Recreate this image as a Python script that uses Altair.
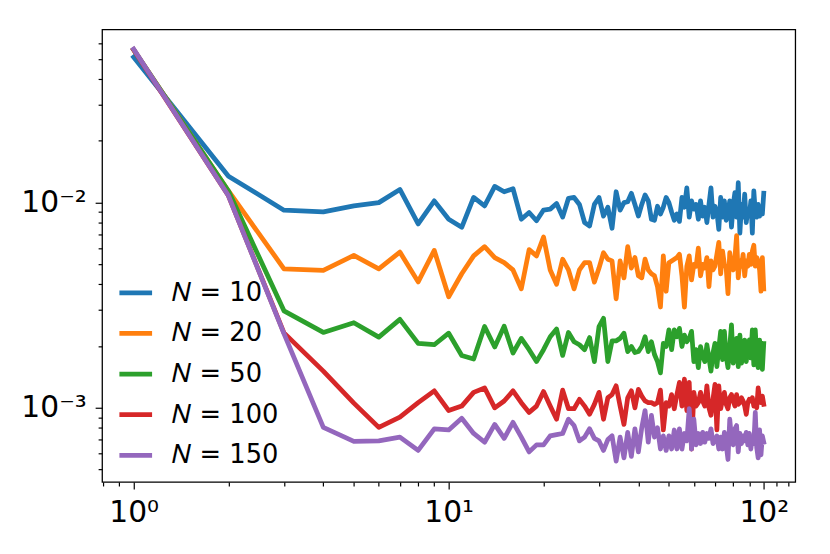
import altair as alt
import pandas as pd

n_values = list(range(1, 101))

series_labels = ["𝑁 = 10", "𝑁 = 20", "𝑁 = 50", "𝑁 = 100", "𝑁 = 150"]
series_colors = ["#1f77b4", "#ff7f0e", "#2ca02c", "#d62728", "#9467bd"]

n10 = [0.0512, 0.01346, 0.00919, 0.00902, 0.00964, 0.0100, 0.0116, 0.00787, 0.0102, 0.0083,
       0.00758, 0.0106, 0.00964, 0.0120, 0.0113, 0.0117, 0.0083, 0.00895, 0.00816, 0.0092,
       0.0093, 0.0099, 0.0085, 0.0105, 0.0106, 0.0098, 0.0080, 0.0077, 0.0098, 0.0106,
       0.0086, 0.0095, 0.0075, 0.0113, 0.0092, 0.0100, 0.0101, 0.0111, 0.0098, 0.0086,
       0.0098, 0.0109, 0.0102, 0.0083, 0.0082, 0.0096, 0.0088, 0.0095, 0.0106, 0.0100,
       0.0090, 0.0082, 0.0088, 0.0081, 0.0106, 0.0095, 0.0118, 0.0085, 0.0102, 0.0093,
       0.0098, 0.0083, 0.0102, 0.0086, 0.0095, 0.0080, 0.0098, 0.0118, 0.0085, 0.0096,
       0.0090, 0.0074, 0.0106, 0.0085, 0.0102, 0.0082, 0.0090, 0.0102, 0.0076, 0.0098,
       0.0112, 0.0085, 0.0125, 0.0071, 0.0098, 0.0085, 0.0110, 0.0080, 0.0093, 0.0086,
       0.0102, 0.0071, 0.0114, 0.0090, 0.0085, 0.0098, 0.0086, 0.0095, 0.0088, 0.0111]

n20 = [0.0556, 0.0114, 0.00476, 0.00468, 0.00553, 0.00476, 0.00574, 0.00411, 0.00585, 0.00348,
       0.0045, 0.0055, 0.0061, 0.0054, 0.0051, 0.0047, 0.0038, 0.0059, 0.0055, 0.0068,
       0.0047, 0.0040, 0.0053, 0.0047, 0.0038, 0.0047, 0.0051, 0.0051, 0.0041, 0.0048,
       0.0057, 0.0053, 0.0052, 0.0034, 0.0052, 0.0043, 0.0061, 0.0048, 0.0054, 0.0044,
       0.0043, 0.0053, 0.0047, 0.0045, 0.0044, 0.0039, 0.0031, 0.0055, 0.0037, 0.0051,
       0.0052, 0.0053, 0.0054, 0.0056, 0.0044, 0.0031, 0.0049, 0.0055, 0.0042, 0.0050,
       0.0049, 0.0060, 0.0044, 0.0050, 0.0048, 0.0054, 0.0039, 0.0052, 0.0047, 0.0049,
       0.0056, 0.0064, 0.0045, 0.0058, 0.0050, 0.0048, 0.0036, 0.0057, 0.0049, 0.0047,
       0.0054, 0.0069, 0.0043, 0.0052, 0.0049, 0.0056, 0.0044, 0.0052, 0.0049, 0.0056,
       0.0050, 0.0058, 0.0062, 0.0049, 0.0054, 0.0052, 0.0047, 0.0037, 0.0054, 0.0038]

n50 = [0.0556, 0.0114, 0.00297, 0.00233, 0.0026, 0.00221, 0.0027, 0.00206, 0.00203, 0.00231,
       0.00180, 0.00173, 0.00249, 0.00198, 0.00250, 0.00185, 0.00218, 0.00192, 0.00168, 0.00192,
       0.00222, 0.00242, 0.00180, 0.00233, 0.00210, 0.00203, 0.00192, 0.00220, 0.00168, 0.00249,
       0.00273, 0.00168, 0.00212, 0.00212, 0.00218, 0.00231, 0.00188, 0.00199, 0.00186, 0.00188,
       0.00199, 0.00222, 0.00188, 0.00210, 0.00182, 0.00168, 0.00148, 0.00206, 0.00199, 0.00240,
       0.00192, 0.00240, 0.00222, 0.00244, 0.00199, 0.00226, 0.00210, 0.00218, 0.00236, 0.00168,
       0.00192, 0.00157, 0.00199, 0.00178, 0.00168, 0.00203, 0.00175, 0.00151, 0.00185, 0.00206,
       0.00159, 0.00196, 0.00236, 0.00172, 0.00236, 0.00178, 0.00157, 0.00199, 0.00254, 0.00165,
       0.00192, 0.00218, 0.00159, 0.00226, 0.00165, 0.00185, 0.00214, 0.00168, 0.00199, 0.00214,
       0.00175, 0.00240, 0.00162, 0.00240, 0.00178, 0.00157, 0.00214, 0.00172, 0.00154, 0.00206]

n100 = [0.0556, 0.0108, 0.00232, 0.00151, 0.001054, 0.000803, 0.0009, 0.00106, 0.00121, 0.00097,
        0.00102, 0.00119, 0.00125, 0.00100, 0.00108, 0.00121, 0.00106, 0.00095, 0.00102, 0.00120,
        0.00102, 0.00088, 0.00122, 0.00099, 0.00099, 0.00110, 0.00102, 0.00093, 0.00104, 0.00119,
        0.00088, 0.00112, 0.00116, 0.00128, 0.00102, 0.00083, 0.00112, 0.00121, 0.00100, 0.00123,
        0.00114, 0.00108, 0.00106, 0.00106, 0.00104, 0.00106, 0.00122, 0.00078, 0.00106, 0.00102,
        0.00116, 0.00099, 0.00116, 0.00133, 0.00102, 0.00138, 0.00097, 0.00133, 0.00063, 0.00119,
        0.00102, 0.00106, 0.00119, 0.00108, 0.00102, 0.00128, 0.00100, 0.00092, 0.00110, 0.00130,
        0.00078, 0.00128, 0.00099, 0.00110, 0.00119, 0.00104, 0.00099, 0.00112, 0.00116, 0.00108,
        0.00102, 0.00116, 0.00104, 0.00106, 0.00112, 0.00108, 0.00102, 0.00093, 0.00106, 0.00110,
        0.00108, 0.00112, 0.00102, 0.00106, 0.00100, 0.00125, 0.00110, 0.00106, 0.00114, 0.00104]

n150 = [0.0560, 0.0108, 0.00230, 0.000803, 0.000686, 0.00069, 0.00072, 0.00062, 0.00079, 0.00078,
        0.00089, 0.00075, 0.00068, 0.00083, 0.00071, 0.00085, 0.00072, 0.00061, 0.00066, 0.00066,
        0.00073, 0.00074, 0.00075, 0.00088, 0.00082, 0.00069, 0.00072, 0.00079, 0.00071, 0.00069,
        0.00062, 0.00070, 0.00073, 0.00055, 0.00072, 0.00057, 0.00076, 0.00058, 0.00079, 0.00061,
        0.00080, 0.00097, 0.00068, 0.00092, 0.00072, 0.00080, 0.00063, 0.00073, 0.00062, 0.00073,
        0.00063, 0.00078, 0.00063, 0.00079, 0.00063, 0.00075, 0.00069, 0.00099, 0.00063, 0.00088,
        0.00066, 0.00075, 0.00067, 0.00076, 0.00068, 0.00075, 0.00071, 0.00079, 0.00067, 0.00069,
        0.00073, 0.00063, 0.00072, 0.00063, 0.00076, 0.00066, 0.00056, 0.00088, 0.00071, 0.00066,
        0.00079, 0.00082, 0.00061, 0.00075, 0.00067, 0.00073, 0.00069, 0.00076, 0.00066, 0.00075,
        0.00063, 0.00072, 0.00067, 0.00095, 0.00064, 0.00057, 0.00078, 0.00059, 0.00073, 0.00068]

x_ticks = [0.8, 0.9, 1, 2, 3, 4, 5, 6, 7, 8, 9, 10, 20, 30, 40, 50, 60, 70, 80, 90, 100, 110, 120]
y_ticks = [0.0005, 0.0006, 0.0007, 0.0008, 0.0009, 0.001, 0.002, 0.003, 0.004, 0.005, 0.006,
           0.007, 0.008, 0.009, 0.01, 0.02, 0.03, 0.04, 0.05, 0.06]

rows = []
for label, vals in zip(series_labels, [n10, n20, n50, n100, n150]):
    for n, v in zip(n_values, vals):
        rows.append({"n": n, "value": v, "series": label})
df = pd.DataFrame(rows)

FONT = "DejaVu Sans"

x_axis = alt.Axis(
    values=x_ticks,
    labelExpr="datum.value == 1 ? '10⁰' : datum.value == 10 ? '10¹' : datum.value == 100 ? '10²' : ''",
    tickSize={"condition": {"test": "datum.value == 1 || datum.value == 10 || datum.value == 100", "value": 7}, "value": 4},
    tickColor="black", tickWidth=1.2, labelFont=FONT, labelFontSize=30, labelColor="black",
    labelPadding=9, grid=False, domain=False, title=None, labelFlush=False, labelOverlap=False,
)
y_axis = alt.Axis(
    values=y_ticks,
    labelExpr="datum.value == 0.01 ? '10⁻²' : datum.value == 0.001 ? '10⁻³' : ''",
    tickSize={"condition": {"test": "datum.value == 0.01 || datum.value == 0.001", "value": 7}, "value": 4},
    tickColor="black", tickWidth=1.2, labelFont=FONT, labelFontSize=30, labelColor="black",
    labelPadding=9, grid=False, domain=False, title=None, labelFlush=False, labelOverlap=False,
)

chart = alt.Chart(df).mark_line(strokeWidth=4.8, strokeCap="square", strokeJoin="round", clip=True).encode(
    x=alt.X("n:Q", scale=alt.Scale(type="log", domain=[0.794, 125.9], nice=False), axis=x_axis),
    y=alt.Y("value:Q", scale=alt.Scale(type="log", domain=[0.000435, 0.0698], nice=False), axis=y_axis),
    color=alt.Color(
        "series:N",
        scale=alt.Scale(domain=series_labels, range=series_colors),
        legend=alt.Legend(
            title=None, orient="none", legendX=15, legendY=247, symbolType="stroke",
            symbolSize=1089, symbolStrokeWidth=4.8, labelFont=FONT, labelFontSize=26,
            labelColor="black", labelOffset=18, rowPadding=9, padding=0, labelLimit=400,
        ),
    ),
).properties(
    width=700, height=457,
    autosize=alt.AutoSizeParams(type="none"),
    padding={"left": 95, "top": 19, "right": 27, "bottom": 70},
).configure(
    background="white",
    view=alt.ViewConfig(stroke="black", strokeWidth=1.3),
)

chart.save("out.html", embed_options={"renderer": "svg", "actions": False})
